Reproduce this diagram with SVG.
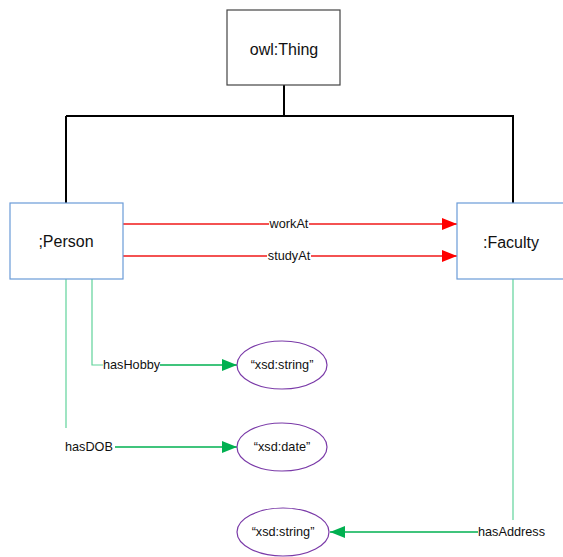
<svg xmlns="http://www.w3.org/2000/svg" width="563" height="557" viewBox="0 0 563 557">
  <style>
    .node { fill: #ffffff; stroke: #6a9bd8; stroke-width: 1.2; }
    .top { fill: #ffffff; stroke: #444444; stroke-width: 1.2; }
    .lit { fill: #ffffff; stroke: #7a3aa8; stroke-width: 1.2; }
    .name { font-family: "Liberation Sans", Arial, sans-serif; font-size: 16px; fill: #111111; text-anchor: middle; dominant-baseline: central; }
    .lbl { font-family: "Liberation Sans", Arial, sans-serif; font-size: 12.7px; fill: #111111; dominant-baseline: central; }
    .mid { text-anchor: middle; }
    .tree { stroke: #000000; stroke-width: 2; fill: none; }
    .obj { stroke: #f01818; stroke-width: 1.5; fill: none; }
    .dat { stroke: #00b050; stroke-width: 1.5; fill: none; }
    .datv { stroke: #5fd39a; stroke-width: 1.2; fill: none; }
    .bg { fill: #ffffff; }
  </style>
  <defs>
    <marker id="redArrow" markerWidth="15" markerHeight="12" refX="15" refY="6" orient="auto" markerUnits="userSpaceOnUse">
      <path d="M0,0 L15,6 L0,12 Z" fill="#ff0000"/>
    </marker>
    <marker id="greenArrow" markerWidth="15" markerHeight="12" refX="15" refY="6" orient="auto" markerUnits="userSpaceOnUse">
      <path d="M0,0 L15,6 L0,12 Z" fill="#00b050"/>
    </marker>
  </defs>

  <rect width="563" height="557" fill="#ffffff"/>

  <g id="connectors">
    <!-- subclass tree -->
    <path class="tree" d="M284,85 V116 M66,116 H514 M66,116 V203 M513,116 V203"/>

    <!-- object properties -->
    <line class="obj" x1="123" y1="224" x2="457" y2="224" marker-end="url(#redArrow)"/>
    <rect class="bg" x="269" y="216" width="40" height="16"/>
    <text class="lbl mid" x="289" y="224">workAt</text>

    <line class="obj" x1="123" y1="256" x2="457" y2="256" marker-end="url(#redArrow)"/>
    <rect class="bg" x="267" y="248" width="44" height="16"/>
    <text class="lbl mid" x="289" y="256">studyAt</text>

    <!-- datatype properties -->
    <path class="datv" d="M92,279 V365 H103"/>
    <text class="lbl" x="103" y="365">hasHobby</text>
    <line class="dat" x1="160" y1="365" x2="237" y2="365" marker-end="url(#greenArrow)"/>

    <path class="datv" d="M66,279 V428"/>
    <text class="lbl" x="65" y="447">hasDOB</text>
    <line class="dat" x1="115" y1="447" x2="237" y2="447" marker-end="url(#greenArrow)"/>

    <path class="datv" d="M513,279 V520"/>
    <text class="lbl" x="478" y="532">hasAddress</text>
    <line class="dat" x1="478" y1="532" x2="330" y2="532" marker-end="url(#greenArrow)"/>
  </g>

  <g id="owl-thing">
    <rect class="top" x="227" y="10" width="113" height="75"/>
    <text class="name" x="284" y="49">owl:Thing</text>
  </g>

  <g id="person">
    <rect class="node" x="10" y="203" width="113" height="76"/>
    <text class="name" x="66" y="241">;Person</text>
  </g>

  <g id="faculty">
    <rect class="node" x="457" y="203" width="113" height="76"/>
    <text class="name" x="511" y="242">:Faculty</text>
  </g>

  <g id="hobby-literal">
    <ellipse class="lit" cx="282" cy="365" rx="45" ry="24"/>
    <text class="lbl mid" x="282" y="365">“xsd:string”</text>
  </g>

  <g id="dob-literal">
    <ellipse class="lit" cx="282" cy="447" rx="45" ry="24"/>
    <text class="lbl mid" x="282" y="447">“xsd:date”</text>
  </g>

  <g id="address-literal">
    <ellipse class="lit" cx="283" cy="532" rx="46" ry="24"/>
    <text class="lbl mid" x="283" y="532">“xsd:string”</text>
  </g>
</svg>
